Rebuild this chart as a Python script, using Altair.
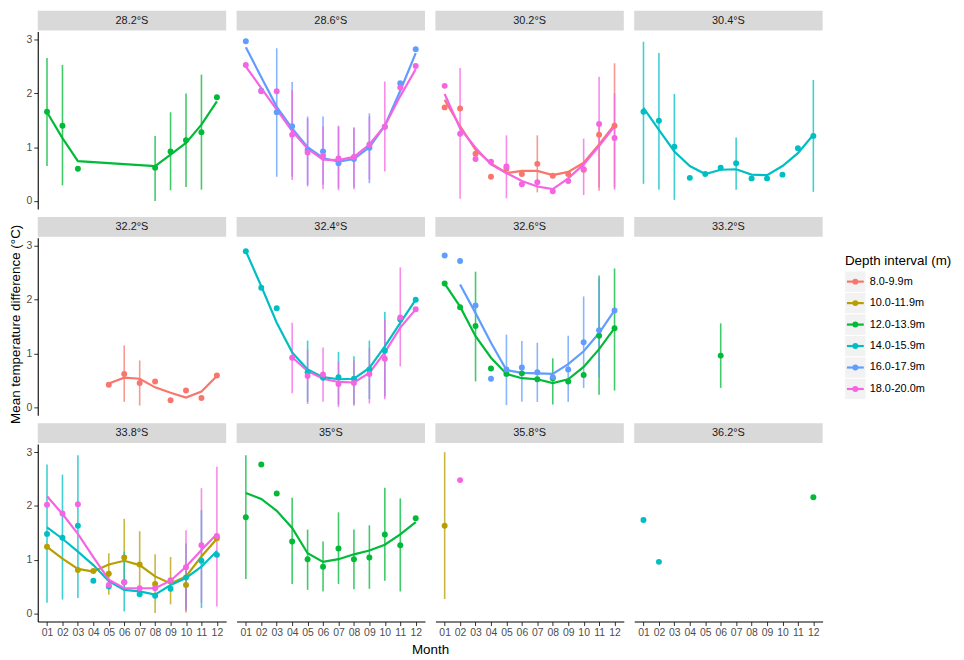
import altair as alt
import pandas as pd

N = None
FONT = "Liberation Sans"

LATS = ["28.2°S", "28.6°S", "30.2°S", "30.4°S", "32.2°S", "32.4°S",
        "32.6°S", "33.2°S", "33.8°S", "35°S", "35.8°S", "36.2°S"]
DEPTHS = ["8.0-9.9m", "10.0-11.9m", "12.0-13.9m", "14.0-15.9m", "16.0-17.9m", "18.0-20.0m"]
COLORS = ["#F8766D", "#B79F00", "#00BA38", "#00BFC4", "#619CFF", "#F564E3"]
MONTHS = list(range(1, 13))

# ---- 28.2°S, 12.0-13.9m
A_MEAN = [1.66, 1.40, 0.60, N, N, N, N, 0.62, 0.92, 1.13, 1.28, 1.93]
A_LO = [0.65, 0.29, N, N, N, N, N, 0.00, 0.20, 0.26, 0.21, N]
A_HI = [2.66, 2.53, N, N, N, N, N, 1.21, 1.65, 2.00, 2.35, N]
A_FIT = [1.65, 1.17, 0.74, N, N, N, N, 0.65, 0.86, 1.08, 1.42, 1.85]
# ---- 28.6°S, 16.0-17.9m
B5_MEAN = [2.97, 2.05, 1.65, 1.39, 0.95, 0.92, 0.70, 0.78, 0.99, 1.38, 2.19, 2.82]
B5_LO = [N, N, 0.45, 0.45, 0.30, 0.30, 0.24, 0.25, 0.33, N, N, N]
B5_HI = [N, N, 2.84, 2.21, 1.57, 1.57, 1.38, 1.35, 1.63, N, N, N]
B5_FIT = [2.86, 2.30, 1.75, 1.35, 1.00, 0.80, 0.73, 0.78, 1.00, 1.40, 2.05, 2.75]
# ---- 28.6°S, 18.0-20.0m
B6_MEAN = [2.53, 2.04, 2.04, 1.23, 0.90, 0.84, 0.79, 0.82, 1.05, 1.38, 2.11, 2.51]
B6_LO = [N, N, N, 0.39, 0.27, 0.22, 0.20, 0.22, 0.40, 0.55, N, N]
B6_HI = [N, N, N, 2.06, 1.53, 1.39, 1.40, 1.37, 1.57, 2.22, N, N]
B6_FIT = [2.50, 2.10, 1.70, 1.30, 0.97, 0.77, 0.76, 0.82, 1.05, 1.40, 1.95, 2.45]
# ---- 30.2°S, 8.0-9.9m
C1_MEAN = [1.74, 1.72, 0.88, 0.45, 0.60, 0.50, 0.69, 0.47, 0.50, 0.58, 1.23, 1.40]
C1_LO = [N, N, N, N, N, N, 0.16, N, N, N, 0.19, 0.25]
C1_HI = [N, N, N, N, N, N, 1.22, N, N, N, 1.40, 2.56]
C1_FIT = [1.88, 1.39, 0.95, 0.70, 0.52, 0.56, 0.56, 0.48, 0.54, 0.71, 1.05, 1.42]
# ---- 30.2°S, 18.0-20.0m
C6_MEAN = [2.14, 1.25, 0.78, 0.73, 0.64, 0.31, 0.35, 0.18, 0.37, 0.59, 1.43, 1.17]
C6_LO = [N, 0.04, N, N, 0.05, N, N, N, N, 0.11, 0.25, 0.21]
C6_HI = [N, 2.47, N, N, 1.22, N, N, N, N, 1.16, 2.31, 2.00]
C6_FIT = [1.99, 1.35, 0.99, 0.68, 0.52, 0.37, 0.27, 0.22, 0.42, 0.68, 1.02, 1.39]
# ---- 30.4°S, 14.0-15.9m
D4_MEAN = [1.66, 1.49, 1.01, 0.43, 0.50, 0.62, 0.70, 0.42, 0.42, 0.49, 0.98, 1.21]
D4_LO = [0.32, 0.21, 0.02, N, N, N, 0.21, N, N, N, N, 0.17]
D4_HI = [2.96, 2.75, 1.99, N, N, N, 1.18, N, N, N, N, 2.25]
D4_FIT = [1.73, 1.32, 0.92, 0.65, 0.50, 0.58, 0.59, 0.49, 0.48, 0.65, 0.89, 1.23]
# ---- 32.2°S, 8.0-9.9m
E1_MEAN = [N, N, N, N, 0.42, 0.62, 0.45, 0.48, 0.13, 0.31, 0.17, 0.59]
E1_LO = [N, N, N, N, N, 0.10, 0.03, N, N, N, N, N]
E1_HI = [N, N, N, N, N, 1.15, 0.87, N, N, N, N, N]
E1_FIT = [N, N, N, N, 0.44, 0.55, 0.53, 0.37, 0.27, 0.18, 0.29, 0.58]
# ---- 32.4°S, 14.0-15.9m
F4_MEAN = [2.90, 2.22, 1.84, N, 0.65, 0.55, 0.56, 0.53, 0.70, 1.05, 1.63, 2.00]
F4_LO = [N, N, N, N, 0.10, N, 0.05, 0.05, 0.15, 0.20, N, N]
F4_HI = [N, N, N, N, 1.24, N, 1.03, 0.95, 1.24, 1.77, N, N]
F4_FIT = [2.90, 2.25, 1.57, 1.02, 0.70, 0.56, 0.52, 0.53, 0.73, 1.13, 1.57, 2.00]
# ---- 32.4°S, 18.0-20.0m
F6_MEAN = [N, N, N, 0.92, 0.58, 0.61, 0.43, 0.45, 0.62, 0.90, 1.67, 1.82]
F6_LO = [N, N, N, 0.26, 0.06, 0.10, 0.00, 0.03, 0.07, 0.15, 0.76, N]
F6_HI = [N, N, N, 1.57, 1.07, 1.11, 0.85, 0.87, 1.10, 1.63, 2.60, N]
F6_FIT = [N, N, N, 0.93, 0.67, 0.53, 0.47, 0.46, 0.64, 1.02, 1.48, 1.82]
# ---- 32.6°S, 12.0-13.9m
G3_MEAN = [2.30, 1.86, 1.51, 0.72, 0.62, 0.63, 0.52, 0.54, 0.48, 0.60, 1.33, 1.47]
G3_LO = [N, N, 0.48, N, N, N, N, 0.05, N, N, 0.23, 0.31]
G3_HI = [N, N, 2.52, N, N, N, N, 0.91, N, N, 2.45, 2.58]
G3_FIT = [2.30, 1.87, 1.32, 0.92, 0.62, 0.54, 0.52, 0.45, 0.52, 0.75, 1.08, 1.47]
# ---- 32.6°S, 16.0-17.9m
G5_MEAN = [2.82, 2.72, 1.89, 0.53, 0.70, 0.74, 0.65, 0.56, 0.70, 1.21, 1.43, 1.80]
G5_LO = [N, N, N, N, 0.04, 0.10, 0.10, N, 0.10, 0.36, 0.55, N]
G5_HI = [N, N, N, N, 1.35, 1.23, 1.20, N, 1.33, 2.06, 2.40, N]
G5_FIT = [N, 2.28, 1.75, 1.20, 0.69, 0.64, 0.63, 0.62, 0.80, 1.04, 1.38, 1.80]
# ---- 33.2°S, 12.0-13.9m
H3_MEAN = [N, N, N, N, N, 0.96, N, N, N, N, N, N]
H3_LO = [N, N, N, N, N, 0.36, N, N, N, N, N, N]
H3_HI = [N, N, N, N, N, 1.56, N, N, N, N, N, N]
# ---- 33.8°S, 10.0-11.9m
I2_MEAN = [1.24, N, 0.81, 0.79, 0.74, 1.04, 0.91, 0.55, 0.60, 0.53, N, 1.40]
I2_LO = [N, N, N, N, 0.35, 0.50, 0.40, 0.01, 0.17, 0.02, N, N]
I2_HI = [N, N, N, N, 1.12, 1.76, 1.53, 1.10, 1.05, 0.80, N, N]
I2_FIT = [1.24, 1.02, 0.83, 0.78, 0.91, 0.98, 0.90, 0.69, 0.56, 0.69, 1.06, 1.39]
# ---- 33.8°S, 14.0-15.9m
I4_MEAN = [1.48, 1.41, 1.63, 0.61, 0.50, 0.58, 0.36, 0.33, 0.46, 0.67, 0.98, 1.09]
I4_LO = [0.20, 0.26, 0.29, N, N, 0.04, N, N, N, 0.08, 0.10, N]
I4_HI = [2.77, 2.58, 2.94, N, N, 1.15, N, N, N, 1.30, 1.92, N]
I4_FIT = [1.60, 1.39, 1.15, 0.90, 0.60, 0.44, 0.41, 0.35, 0.53, 0.66, 0.87, 1.16]
# ---- 33.8°S, 18.0-20.0m
I6_MEAN = [2.02, 1.86, 2.03, N, 0.53, 0.58, 0.47, 0.47, 0.62, 0.86, 1.27, 1.44]
I6_LO = [N, N, N, N, N, N, N, N, N, 0.05, 0.20, 0.13]
I6_HI = [N, N, N, N, N, N, N, N, N, 1.55, 2.33, 2.73]
I6_FIT = [2.18, 1.85, 1.48, 1.05, 0.63, 0.47, 0.47, 0.47, 0.61, 0.87, 1.18, 1.48]
# ---- 35°S, 12.0-13.9m
J3_MEAN = [1.79, 2.77, 2.23, 1.34, 1.01, 0.87, 1.21, 1.01, 1.04, 1.47, 1.27, 1.77]
J3_LO = [0.64, N, N, 0.55, 0.44, 0.41, 0.55, 0.45, 0.46, 0.61, 0.41, N]
J3_HI = [2.94, N, N, 2.15, 1.56, 1.34, 1.88, 1.56, 1.64, 2.34, 2.14, N]
J3_FIT = [2.24, 2.13, 1.91, 1.59, 1.12, 0.96, 1.01, 1.10, 1.17, 1.28, 1.47, 1.70]
# ---- 35.8°S
K2_MEAN = [1.63, N, N, N, N, N, N, N, N, N, N, N]
K2_LO = [0.27, N, N, N, N, N, N, N, N, N, N, N]
K2_HI = [3.00, N, N, N, N, N, N, N, N, N, N, N]
K6_MEAN = [N, 2.48, N, N, N, N, N, N, N, N, N, N]
# ---- 36.2°S
L4_MEAN = [1.74, 0.96, N, N, N, N, N, N, N, N, N, N]
L3_MEAN = [N, N, N, N, N, N, N, N, N, N, N, 2.16]

NONE12 = [N] * 12
SERIES = [
    ("28.2°S", DEPTHS[2], A_MEAN, A_LO, A_HI, A_FIT),
    ("28.6°S", DEPTHS[4], B5_MEAN, B5_LO, B5_HI, B5_FIT),
    ("28.6°S", DEPTHS[5], B6_MEAN, B6_LO, B6_HI, B6_FIT),
    ("30.2°S", DEPTHS[0], C1_MEAN, C1_LO, C1_HI, C1_FIT),
    ("30.2°S", DEPTHS[5], C6_MEAN, C6_LO, C6_HI, C6_FIT),
    ("30.4°S", DEPTHS[3], D4_MEAN, D4_LO, D4_HI, D4_FIT),
    ("32.2°S", DEPTHS[0], E1_MEAN, E1_LO, E1_HI, E1_FIT),
    ("32.4°S", DEPTHS[3], F4_MEAN, F4_LO, F4_HI, F4_FIT),
    ("32.4°S", DEPTHS[5], F6_MEAN, F6_LO, F6_HI, F6_FIT),
    ("32.6°S", DEPTHS[2], G3_MEAN, G3_LO, G3_HI, G3_FIT),
    ("32.6°S", DEPTHS[4], G5_MEAN, G5_LO, G5_HI, G5_FIT),
    ("33.2°S", DEPTHS[2], H3_MEAN, H3_LO, H3_HI, NONE12),
    ("33.8°S", DEPTHS[1], I2_MEAN, I2_LO, I2_HI, I2_FIT),
    ("33.8°S", DEPTHS[3], I4_MEAN, I4_LO, I4_HI, I4_FIT),
    ("33.8°S", DEPTHS[5], I6_MEAN, I6_LO, I6_HI, I6_FIT),
    ("35°S", DEPTHS[2], J3_MEAN, J3_LO, J3_HI, J3_FIT),
    ("35.8°S", DEPTHS[1], K2_MEAN, K2_LO, K2_HI, NONE12),
    ("35.8°S", DEPTHS[5], K6_MEAN, NONE12, NONE12, NONE12),
    ("36.2°S", DEPTHS[3], L4_MEAN, NONE12, NONE12, NONE12),
    ("36.2°S", DEPTHS[2], L3_MEAN, NONE12, NONE12, NONE12),
]

rows = []
for lat, depth, mean, lo, hi, fit in SERIES:
    for i, m in enumerate(MONTHS):
        if mean[i] is None and lo[i] is None and fit[i] is None:
            continue
        rows.append({"lat": lat, "depth": depth, "month": m,
                     "mean": mean[i], "lo": lo[i], "hi": hi[i], "fit": fit[i]})
df = pd.DataFrame(rows)

W, H = 190, 179
xscale = alt.Scale(domain=[0.4, 12.6], nice=False, zero=False)
yscale = alt.Scale(domain=[-0.15, 3.15], nice=False, zero=False)
cscale = alt.Scale(domain=DEPTHS, range=COLORS)
COLOR = alt.Color("depth:N", scale=cscale, legend=None)
LABEL_EXPR = "datum.value < 10 ? '0' + datum.value : '' + datum.value"


def make_panel(lat, show_y, show_x):
    xaxis = alt.Axis(values=MONTHS, title=None, grid=False, labelExpr=LABEL_EXPR) if show_x else None
    yaxis = alt.Axis(values=[0, 1, 2, 3], title=None, grid=False, format="d") if show_y else None
    X = alt.X("month:Q", scale=xscale, axis=xaxis)
    base = alt.Chart(df).transform_filter(alt.datum.lat == lat)

    strip = base.transform_aggregate(n="count()", groupby=["lat"]).mark_rect(
        color="#D9D9D9").encode(x=alt.value(0), x2=alt.value(W),
                                y=alt.value(-21), y2=alt.value(-1))
    strip_text = base.transform_aggregate(n="count()", groupby=["lat"]).mark_text(
        font=FONT, fontSize=11, color="#1A1A1A").encode(
        x=alt.value(W / 2), y=alt.value(-11), text="lat:N")
    rules = base.transform_filter("isValid(datum.lo)").mark_rule(
        strokeWidth=1.6, opacity=0.75).encode(
        x=X, y=alt.Y("lo:Q", scale=yscale, axis=yaxis), y2="hi:Q", color=COLOR)
    lines = base.transform_filter("isValid(datum.fit)").mark_line(
        strokeWidth=2.2).encode(
        x=X, y=alt.Y("fit:Q", scale=yscale, axis=yaxis), color=COLOR,
        order=alt.Order("month:Q"))
    points = base.transform_filter("isValid(datum.mean)").mark_circle(
        size=36, opacity=1).encode(
        x=X, y=alt.Y("mean:Q", scale=yscale, axis=yaxis), color=COLOR)
    return alt.layer(strip, strip_text, rules, lines, points).properties(width=W, height=H)


grid_rows = []
for r in range(3):
    panels = [make_panel(LATS[r * 4 + c], c == 0, r == 2) for c in range(4)]
    grid_rows.append(alt.hconcat(*panels, spacing=10.5))

inner = alt.vconcat(*grid_rows, spacing=8).properties(
    title=alt.TitleParams("Mean temperature difference (°C)", orient="left",
                          anchor="middle", fontSize=13.5, fontWeight="normal",
                          font=FONT, color="black", offset=4))

with_month = alt.vconcat(inner).properties(
    title=alt.TitleParams("Month", orient="bottom", anchor="middle", fontSize=13.5,
                          fontWeight="normal", font=FONT, color="black", offset=5, dx=15))

# ---- manual legend (ggplot-style keys)
leg_df = pd.DataFrame({"depth": DEPTHS, "i": list(range(len(DEPTHS)))})
LEG_Y0, LEG_STEP = 252.2, 21.65
ly = alt.Y("i:Q", scale=alt.Scale(domain=[0, 5], range=[LEG_Y0, LEG_Y0 + 5 * LEG_STEP]), axis=None)
lbase = alt.Chart(leg_df)
keys = lbase.mark_point(shape="square", filled=True, size=420, color="#F2F2F2",
                        opacity=1).encode(x=alt.value(10.5), y=ly)
key_lines = lbase.mark_rule(strokeWidth=2.2).encode(
    x=alt.value(2), x2=alt.value(19), y=ly, color=COLOR)
key_pts = lbase.mark_circle(size=36, opacity=1).encode(x=alt.value(10.5), y=ly, color=COLOR)
key_labels = lbase.mark_text(align="left", baseline="middle", font=FONT, fontSize=11,
                             color="black").encode(x=alt.value(25), y=ly, text="depth:N")
leg_title = lbase.transform_filter(alt.datum.i == 0).mark_text(
    align="left", baseline="middle", font=FONT, fontSize=13.5, color="black").encode(
    x=alt.value(0), y=alt.value(LEG_Y0 - 21), text=alt.value("Depth interval (m)"))
legend = alt.layer(keys, key_lines, key_pts, key_labels, leg_title).properties(
    width=112, height=400)

chart = alt.hconcat(with_month, legend, spacing=22).properties(
    padding={"left": 0, "top": 0, "right": 0, "bottom": 0},
).configure_view(stroke="transparent", strokeWidth=0).configure_axis(
    domainColor="black", domainWidth=1.1, tickColor="#333333", tickSize=4,
    labelColor="#4D4D4D", labelFontSize=10.5, labelFont=FONT, labelPadding=2,
)

chart.save("out.html", embed_options={"renderer": "svg", "actions": False})
